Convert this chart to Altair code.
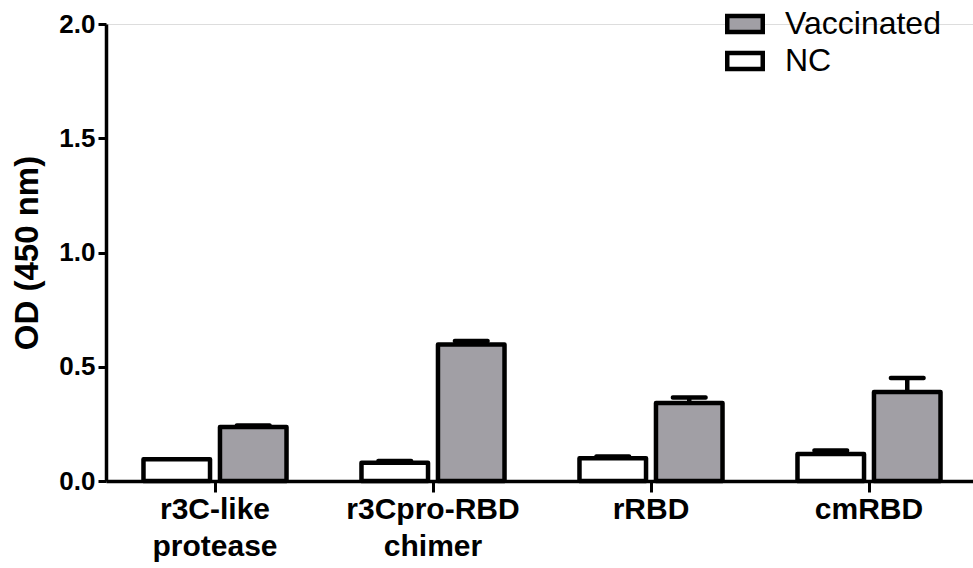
import altair as alt
import pandas as pd

categories = ["r3C-like protease", "r3Cpro-RBD chimer", "rRBD", "cmRBD"]
groups = ["NC", "Vaccinated"]
nc_values = [0.095, 0.080, 0.100, 0.118]
nc_errors = [0.0, 0.008, 0.007, 0.015]
vacc_values = [0.236, 0.597, 0.341, 0.389]
vacc_errors = [0.007, 0.016, 0.024, 0.062]
y_ticks = [0.0, 0.5, 1.0, 1.5, 2.0]

rows = []
for i, c in enumerate(categories):
    rows.append({"category": c, "group": "NC", "value": nc_values[i], "upper": nc_values[i] + nc_errors[i], "err": nc_errors[i]})
    rows.append({"category": c, "group": "Vaccinated", "value": vacc_values[i], "upper": vacc_values[i] + vacc_errors[i], "err": vacc_errors[i]})
df = pd.DataFrame(rows)

FONT = "Liberation Sans"
LW = 4.5

x_enc = alt.X(
    "category:N",
    sort=categories,
    scale=alt.Scale(range=[0, 872], paddingInner=0, paddingOuter=0),
    axis=alt.Axis(
        title=None,
        labelExpr="split(datum.value, ' ')",
        labelFontSize=30,
        labelFontWeight="bold",
        labelLineHeight=37,
        labelPadding=2,
        labelAngle=0,
        tickSize=11,
        tickWidth=3,
        tickColor="black",
        domainWidth=3.5,
        domainColor="black",
        labelColor="black",
        labelFont=FONT,
    ),
)
xoff_enc = alt.XOffset(
    "group:N", sort=groups, scale=alt.Scale(paddingInner=0.13, paddingOuter=0.49)
)
y_scale = alt.Scale(domain=[0, 2], nice=False, zero=True)
y_axis = alt.Axis(
    title="OD (450 nm)",
    values=y_ticks,
    format=".1f",
    grid=False,
    labelFontSize=26,
    labelFontWeight="bold",
    labelPadding=3,
    tickSize=8,
    tickWidth=3,
    tickColor="black",
    domainWidth=3.5,
    domainColor="black",
    labelColor="black",
    titleFontSize=33,
    titleFontWeight="bold",
    titleColor="black",
    titlePadding=14,
    labelFont=FONT,
    titleFont=FONT,
)

base = alt.Chart(df)

stems = base.transform_filter("datum.err > 0").mark_rule(
    color="black", strokeWidth=LW, opacity=1
).encode(x=x_enc, xOffset=xoff_enc, y=alt.Y("value:Q", scale=y_scale, axis=y_axis), y2="upper:Q")

caps = base.transform_filter("datum.err > 0").mark_tick(
    color="black", orient="horizontal", size=37, thickness=LW, cornerRadius=2, opacity=1
).encode(x=x_enc, xOffset=xoff_enc, y=alt.Y("upper:Q", scale=y_scale, axis=y_axis))

bars = base.mark_bar(stroke="black", strokeWidth=LW, strokeJoin="round", opacity=1).encode(
    x=x_enc,
    xOffset=xoff_enc,
    y=alt.Y("value:Q", scale=y_scale, axis=y_axis),
    fill=alt.Fill(
        "group:N",
        scale=alt.Scale(domain=["Vaccinated", "NC"], range=["#a19fa5", "#ffffff"]),
        legend=alt.Legend(
            title=None,
            orient="none",
            legendX=619,
            legendY=-20,
            direction="vertical",
            symbolType="M-1,-0.45H1V0.45H-1Z",
            symbolSize=1260,
            symbolStrokeColor="black",
            symbolStrokeWidth=LW,
            symbolOpacity=1,
            labelFontSize=32,
            labelFont=FONT,
            labelColor="black",
            labelOffset=20,
            rowPadding=-3,
            padding=0,
        ),
    ),
)

chart = (
    alt.layer(stems, caps, bars)
    .properties(
        width=867,
        height=457,
        autosize=alt.AutoSizeParams(type="none"),
        padding={"left": 106, "top": 24, "right": 0, "bottom": 87},
    )
    .configure_view(stroke=None)
    .configure(font=FONT)
)

chart.save("out.html", embed_options={"renderer": "svg", "actions": False})
